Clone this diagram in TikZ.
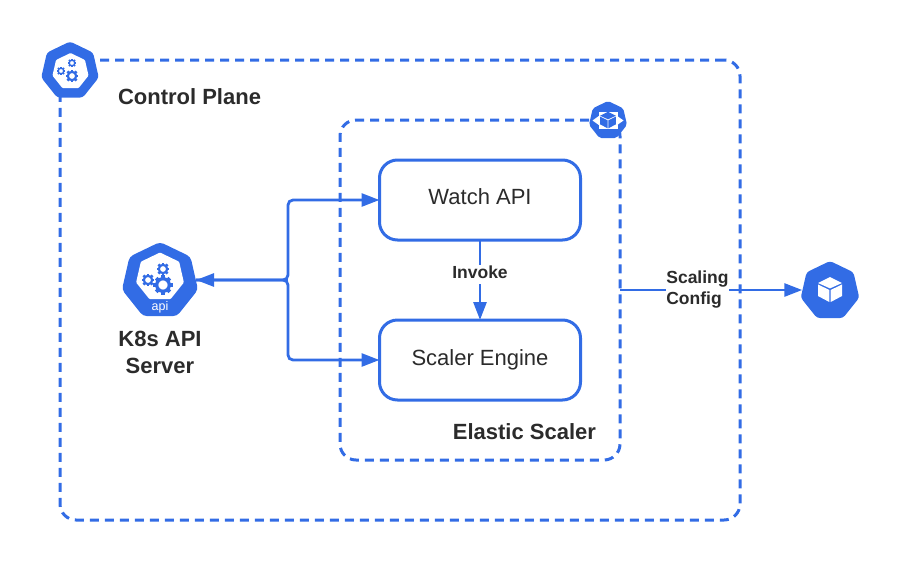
\documentclass[tikz,border=0pt]{standalone}
\usepackage{fontspec}
\setmainfont{Liberation Sans}
\usetikzlibrary{arrows.meta,shapes.geometric,positioning}
\definecolor{kblue}{HTML}{326CE5}
\definecolor{kink}{HTML}{2B2B2B}
\tikzset{
  basic/.style  = {inner sep=0pt, outer sep=0pt, text=kink},
  region/.style = {basic, draw=kblue, line width=3pt, rectangle, rounded corners=16pt,
                   dash pattern=on 9pt off 6pt},
  engine/.style = {basic, draw=kblue, line width=3pt, rectangle, rounded corners=18pt,
                   fill=white, minimum width=201pt, minimum height=80pt,
                   font=\fontsize{22}{26}\selectfont},
  hepta/.style  = {basic, regular polygon, regular polygon sides=7, fill=kblue,
                   rounded corners=3pt},
  inner/.style  = {hepta, fill=white, rounded corners=1pt},
  title/.style  = {basic, font=\fontsize{22}{27}\selectfont\bfseries, align=center},
  small/.style  = {basic, font=\fontsize{17.5}{21}\selectfont\bfseries, align=left,
                   fill=white},
  link/.style   = {draw=kblue, line width=2.8pt},
  tip/.style    = {-{Triangle[length=18pt,width=13pt]}},
  pics/cog/.style = {code={
    \foreach \a in {0,45,...,315}
      \fill[kblue, rotate=\a] (-.2*#1,.65*#1) rectangle (.2*#1,1.02*#1);
    \draw[kblue, line width=.34*#1] (0,0) circle (.66*#1);
  }},
  pics/cube/.style = {code={
    \fill[#1] (0,-14) -- (12,-8) -- (0,-2.6) -- (-12,-8) -- cycle;
    \fill[#1] (-12,-6.6) -- (-.7,-1) -- (-.7,11) -- (-12,5) -- cycle;
    \fill[#1] (12,-6.6) -- (.7,-1) -- (.7,11) -- (12,5) -- cycle;
  }}
}

\begin{document}
\begin{tikzpicture}[x=1pt,y=-1pt]
\useasboundingbox (0,0) rectangle (900,560);

% the two dashed regions
\node[region, minimum width=680pt, minimum height=460pt] (plane) at (400,290) {};
\node[region, minimum width=280pt, minimum height=340pt] (scaler) at (480,290) {};

% the two boxes of the scaler
\node[engine, text depth=6pt] (watch) at (480,200) {Watch API};
\node[engine, below=80pt of watch] (engine) {Scaler Engine};

% icon of the control plane
\node[hepta, minimum size=59pt] (planeicon) at (70,71) {};
\node[inner, minimum size=37pt] (planehole) at (70.5,71.5) {};
\pic at (72,76) {cog=6.3};
\pic at (61,71) {cog=4.3};
\pic at (72,63) {cog=4.3};

% icon of the api server
\node[hepta, minimum size=78pt, rounded corners=4pt] (apiicon) at (160,281) {};
\node[inner, minimum size=49pt] (apihole) at (160,277) {};
\pic at (163,285) {cog=9.5};
\pic at (148,280) {cog=6.3};
\pic at (163,269) {cog=6.3};
\node[basic, text=white, font=\fontsize{12.5}{14}\selectfont] (apitext) at (160,307) {api};

% icon of the scaler
\node[hepta, minimum size=39pt, rounded corners=2pt] (scalericon) at (608,120.5) {};
\node[basic, fill=white, minimum width=19pt, minimum height=17pt] (scalerhole) at (608,120.5) {};
\pic[scale=.66] at (608,121) {cube=kblue};
\fill[white] (scalerhole.west) ++(1,-5) -- ++(-7,5) -- ++(7,5) -- cycle;
\fill[white] (scalerhole.east) ++(-1,-5) -- ++(7,5) -- ++(-7,5) -- cycle;

% icon of the target
\node[hepta, minimum size=60pt] (targeticon) at (830,291) {};
\pic at (830,291) {cube=white};

% texts
\node[title, anchor=west] (planetitle) at (118,97) {Control Plane};
\node[title, anchor=east] (scalertitle) at (596,432) {Elastic Scaler};
\node[title, below=15pt of apiicon.south] (apititle) {K8s API\\Server};

% connectors
\coordinate (fork) at (288,280);
\coordinate (apiend) at (apiicon.east |- fork);
\draw[link, tip] (fork) -- (apiend);
\draw[link, tip, rounded corners=5pt] (apiend) -- (fork) |- (watch.west);
\draw[link, tip, rounded corners=5pt] (apiend) -- (fork) |- (engine.west);
\draw[link, tip] (watch.south) -- (engine.north)
  node[small, text depth=6pt, pos=.435] (invoke) {Invoke};
\coordinate (scalerout) at (scaler.east |- 0,290);
\coordinate (targetend) at (targeticon.west |- 0,290);
\draw[link, tip] (scalerout) -- (targetend)
  node[small, pos=.425, yshift=.5pt] (config) {Scaling\\Config};
\end{tikzpicture}
\end{document}
